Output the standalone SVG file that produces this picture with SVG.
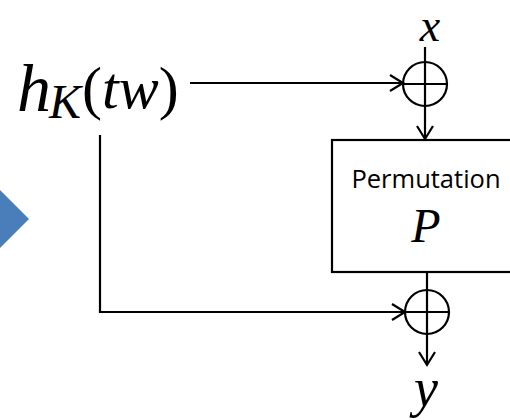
<svg xmlns="http://www.w3.org/2000/svg" width="510" height="420" viewBox="0 0 510 420">
<style>
.ln{fill:none;stroke:#000;stroke-width:2.2}
.math{font-family:"Liberation Serif","Times New Roman",serif;font-style:italic;fill:#000}
.up{font-style:normal}
.lbl{font-family:"Open Sans","Noto Sans",sans-serif;fill:#000}
</style>
<defs>
<marker id="ah" markerWidth="20" markerHeight="20" refX="16" refY="9" orient="auto" markerUnits="userSpaceOnUse">
<path d="M3,1 L16,9 L3,17" fill="none" stroke="#000" stroke-width="2.2"/>
</marker>
</defs>
<rect width="510" height="420" fill="#fff"/>
<polygon points="0,190 29,219 0,248" fill="#4A7EBB"/>
<g id="input-hk">
<text class="math" x="17" y="111" font-size="68">h</text>
<text class="math" x="49" y="118" font-size="48">K</text>
<text class="math" x="82" y="108" font-size="60"><tspan class="up">(</tspan>tw<tspan class="up">)</tspan></text>
</g>
<g id="input-x"><text class="math" x="430" y="41" font-size="46" text-anchor="middle">x</text></g>
<g id="xor-top">
<circle class="ln" cx="425" cy="84" r="22"/>
<line class="ln" x1="403" y1="84" x2="447" y2="84"/>
<line class="ln" x1="425" y1="62" x2="425" y2="106"/>
</g>
<g id="perm">
<rect class="ln" x="332" y="140" width="190" height="132"/>
<text class="lbl" x="426" y="188" font-size="25.5" text-anchor="middle">Permutation</text>
<text class="math" x="426" y="242" font-size="48" text-anchor="middle">P</text>
</g>
<g id="xor-bot">
<circle class="ln" cx="427" cy="312" r="22"/>
<line class="ln" x1="405" y1="312" x2="449" y2="312"/>
<line class="ln" x1="427" y1="290" x2="427" y2="334"/>
</g>
<g id="output-y"><text class="math" x="426" y="406" font-size="54" text-anchor="middle">y</text></g>
<g id="connectors">
<line class="ln" x1="190" y1="83" x2="403" y2="83" marker-end="url(#ah)"/>
<line class="ln" x1="425" y1="47" x2="425" y2="62"/>
<line class="ln" x1="425" y1="106" x2="425" y2="139" marker-end="url(#ah)"/>
<polyline class="ln" points="100,135 100,312 405,312" marker-end="url(#ah)"/>
<line class="ln" x1="427" y1="272" x2="427" y2="290"/>
<line class="ln" x1="427" y1="334" x2="427" y2="365" marker-end="url(#ah)"/>
</g>
</svg>
